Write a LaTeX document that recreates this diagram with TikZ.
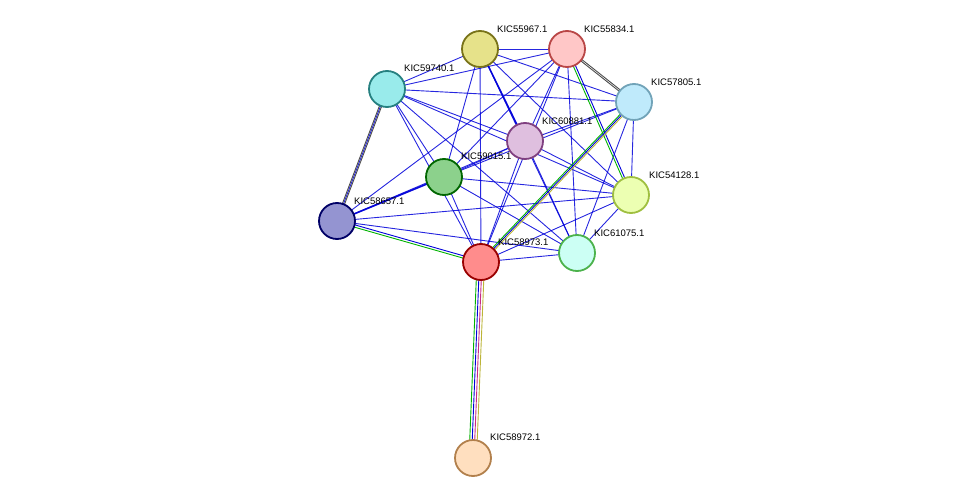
\documentclass[tikz,border=0pt]{standalone}
\usepackage{fontspec}
\setmainfont{Liberation Sans}
\begin{document}
\begin{tikzpicture}[x=1pt,y=-1pt,
  nd/.style={circle,draw,line width=1.8pt,minimum size=36pt,inner sep=0pt},
  lb/.style={font=\fontsize{9.5}{11}\selectfont,anchor=south west,inner sep=1pt},
  e/.style={draw=blue!85!black,line width=0.9pt,opacity=0.85}]
\useasboundingbox (0,0) rectangle (975,503);
\def\N#1#2#3#4#5{\coordinate (#1) at (#2,#3);}
\coordinate (a) at (480,49);  % 55967
\coordinate (b) at (567,49);  % 55834
\coordinate (c) at (387,89);  % 59740
\coordinate (d) at (634,102); % 57805
\coordinate (f) at (525,141); % 60881
\coordinate (g) at (444,177); % 59015
\coordinate (h) at (631,195); % 54128
\coordinate (i) at (337,221); % 58657
\coordinate (j) at (481,262); % 58973
\coordinate (k) at (577,253); % 61075
\coordinate (l) at (473,458); % 58972
\foreach \u/\v in {a/b,a/c,a/d,a/f,a/g,a/h,a/j,a/k,b/c,b/f,b/g,b/i,b/j,b/k,c/d,c/f,c/g,c/h,c/j,c/k,c/i,d/f,d/g,d/h,d/k,f/g,f/h,f/i,f/j,f/k,g/i,g/h,g/j,g/k,h/i,h/j,h/k,i/k,j/k}
  \draw[e] (\u)--(\v);
\draw[e,line width=1.6pt] (g)--(i);
\draw[e,line width=1.5pt] (a)--(f);
% multi-colour edges
\draw[black!70,line width=0.9pt] ([xshift=-1.2pt]b)--([xshift=-1.2pt]d);
\draw[black!70,line width=0.9pt] ([yshift=1.2pt]b)--([yshift=1.2pt]d);
\draw[black!70,line width=0.9pt] ([xshift=-1.2pt]c)--([xshift=-1.2pt]i);
\draw[black!70,line width=0.9pt] ([xshift=1.2pt]c)--([xshift=1.2pt]i);
\draw[green!70!black,line width=0.9pt] ([xshift=-1.2pt]b)--([xshift=-1.2pt]h);
\draw[blue!85!black,line width=0.9pt] ([xshift=1.2pt]b)--([xshift=1.2pt]h);
\draw[green!70!black,line width=0.9pt] ([xshift=-2pt]d)--([xshift=-2pt]j);
\draw[blue!85!black,line width=0.9pt] (d)--(j);
\draw[yellow!70!black,line width=0.9pt] ([xshift=2pt]d)--([xshift=2pt]j);
\draw[green!70!black,line width=0.9pt] ([yshift=-1.2pt]i)--([yshift=-1.2pt]j);
\draw[blue!85!black,line width=0.9pt] ([yshift=1.2pt]i)--([yshift=1.2pt]j);
\draw[green!70!black,line width=0.9pt] ([xshift=-4pt]j)--([xshift=-4pt]l);
\draw[blue!85!black,line width=0.9pt] ([xshift=-1.5pt]j)--([xshift=-1.5pt]l);
\draw[magenta!80!black,line width=0.9pt] ([xshift=1pt]j)--([xshift=1pt]l);
\draw[yellow!70!black,line width=0.9pt] ([xshift=3.5pt]j)--([xshift=3.5pt]l);
% nodes
\node[nd,fill=yellow!45!olive!40,draw=olive!80!black] (na) at (a) {};
\node[nd,fill=red!22,draw=red!45!gray] (nb) at (b) {};
\node[nd,fill=teal!40!cyan!40,draw=teal!70!gray] (nc) at (c) {};
\node[nd,fill=cyan!25,draw=cyan!40!gray] (nd_) at (d) {};
\node[nd,fill=violet!25,draw=violet!50!gray] (nf) at (f) {};
\node[nd,fill=green!60!black!45,draw=green!40!black] (ng) at (g) {};
\node[nd,fill=lime!30,draw=lime!50!gray] (nh) at (h) {};
\node[nd,fill=blue!40!gray!60,draw=blue!40!black] (ni) at (i) {};
\node[nd,fill=red!45,draw=red!60!black] (nj) at (j) {};
\node[nd,fill=green!22!cyan!20,draw=green!40!gray] (nk) at (k) {};
\node[nd,fill=orange!25,draw=orange!40!gray] (nl) at (l) {};
\node[lb] (ta) at (496,34) {KIC55967.1};
\node[lb] (tb) at (583,34) {KIC55834.1};
\node[lb] (tc) at (403,73) {KIC59740.1};
\node[lb] (td) at (650,87) {KIC57805.1};
\node[lb] (tf) at (541,126) {KIC60881.1};
\node[lb] (tg) at (460,161) {KIC59015.1};
\node[lb] (th) at (648,180) {KIC54128.1};
\node[lb] (ti) at (353,206) {KIC58657.1};
\node[lb] (tj) at (497,247) {KIC58973.1};
\node[lb] (tk) at (593,238) {KIC61075.1};
\node[lb] (tl) at (489,442) {KIC58972.1};
\end{tikzpicture}
\end{document}
